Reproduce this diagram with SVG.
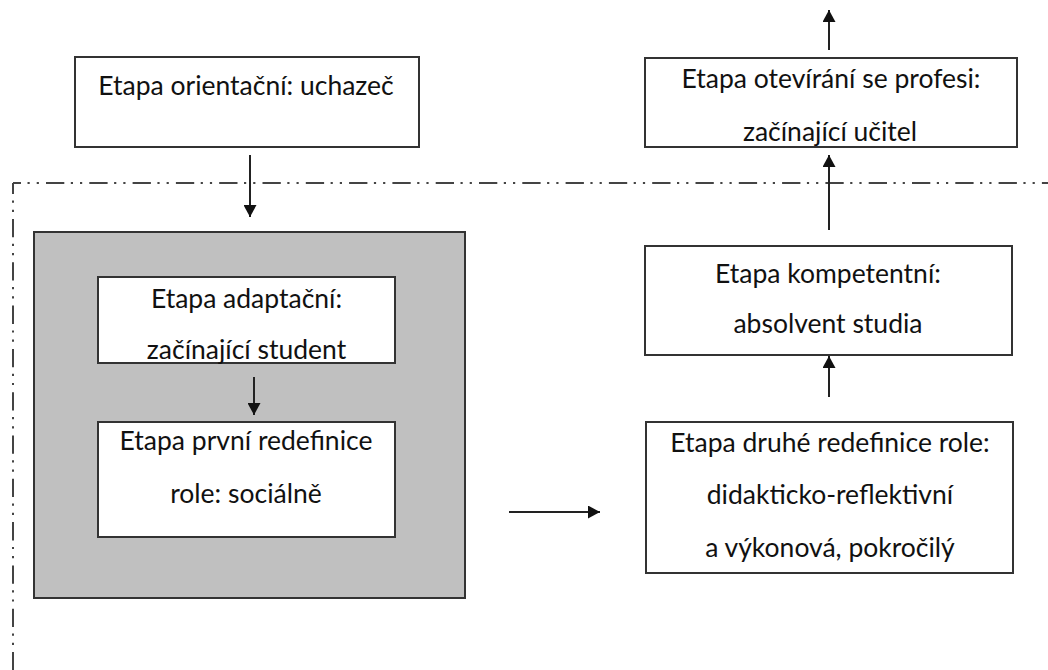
<svg xmlns="http://www.w3.org/2000/svg" width="1048" height="670" viewBox="0 0 1048 670">
<defs>
<style>
.box{fill:#fff;stroke:#333;stroke-width:2}
.outer{fill:#c0c0c0;stroke:#333;stroke-width:2}
.t{font-family:Lato,"Open Sans",sans-serif;font-size:26.5px;fill:#111;text-anchor:middle}
.ln{stroke:#222;stroke-width:2;fill:none}
.dd{stroke:#444;stroke-width:2;fill:none;stroke-dasharray:18.3 6.5 2.2 7 2.2 7.1}
</style>
<marker id="ah" viewBox="0 0 12 13" refX="12" refY="6.5" markerWidth="12" markerHeight="13" orient="auto" markerUnits="userSpaceOnUse">
<path d="M0,0 L12,6.5 L0,13 z" fill="#111"/>
</marker>
</defs>
<rect width="1048" height="670" fill="#fff"/>
<g id="boundary">
<path class="dd" d="M13,183 H1048" stroke-dashoffset="10.3"/>
<path class="dd" d="M13,183 V670" stroke-dashoffset="7.3"/>
</g>
<g id="n-orientacni">
<rect class="box" x="75" y="57" width="344" height="90"/>
<text class="t" x="246" y="95">Etapa orientační: uchazeč</text>
</g>
<g id="n-skupina">
<rect class="outer" x="34" y="232" width="431" height="366"/>
</g>
<g id="n-adaptacni">
<rect class="box" x="98" y="277" width="297" height="86"/>
<text class="t" x="246.5" y="308">Etapa adaptační:</text>
<text class="t" x="246.5" y="359">začínající student</text>
</g>
<g id="n-prvni">
<rect class="box" x="98" y="422" width="297" height="115"/>
<text class="t" x="246" y="450">Etapa první redefinice</text>
<text class="t" x="246" y="503">role: sociálně</text>
</g>
<g id="n-druhe">
<rect class="box" x="646" y="422" width="367" height="151"/>
<text class="t" x="830" y="452">Etapa druhé redefinice role:</text>
<text class="t" x="830" y="504">didakticko-reflektivní</text>
<text class="t" x="830" y="557">a výkonová, pokročilý</text>
</g>
<g id="n-kompetentni">
<rect class="box" x="645" y="246" width="367" height="109"/>
<text class="t" x="828" y="283">Etapa kompetentní:</text>
<text class="t" x="828" y="333">absolvent studia</text>
</g>
<g id="n-oteviran">
<rect class="box" x="645" y="58" width="372" height="89"/>
<text class="t" x="831" y="88">Etapa otevírání se profesi:</text>
<text class="t" x="830" y="141">začínající učitel</text>
</g>
<g id="connectors">
<line class="ln" x1="250" y1="155" x2="250" y2="217" marker-end="url(#ah)"/>
<line class="ln" x1="254" y1="377" x2="254" y2="415" marker-end="url(#ah)"/>
<line class="ln" x1="509" y1="512" x2="600" y2="512" marker-end="url(#ah)"/>
<line class="ln" x1="829" y1="397" x2="829" y2="356" marker-end="url(#ah)"/>
<line class="ln" x1="829" y1="230" x2="829" y2="155" marker-end="url(#ah)"/>
<line class="ln" x1="829" y1="50" x2="829" y2="10" marker-end="url(#ah)"/>
</g>
</svg>
